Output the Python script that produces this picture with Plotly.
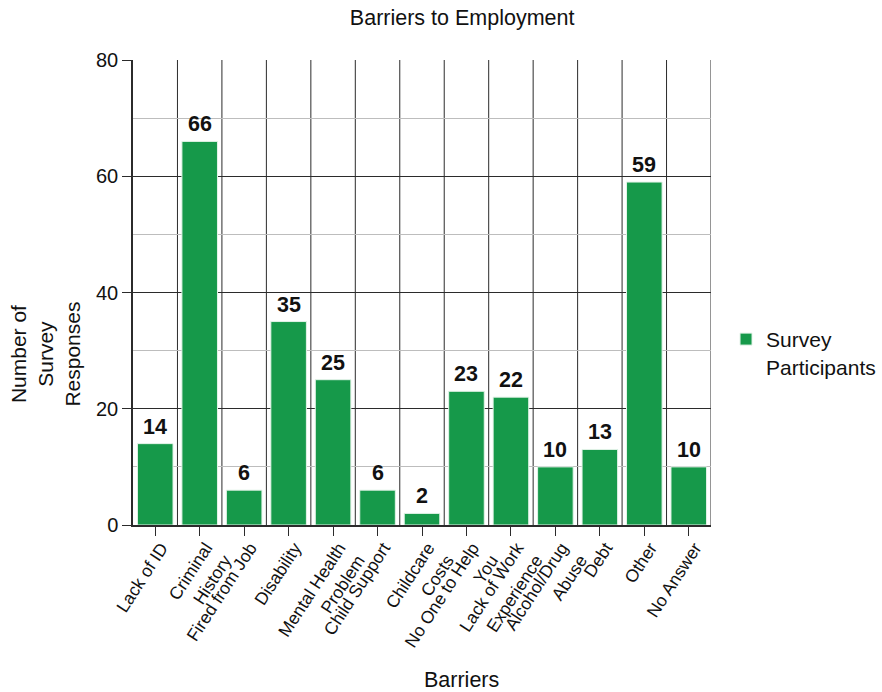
import plotly.graph_objects as go

# Survey results: number of participants citing each barrier
barriers = [
    "Lack of ID",
    "Criminal<br>History",
    "Fired from Job",
    "Disability",
    "Mental Health<br>Problem",
    "Child Support",
    "Childcare<br>Costs",
    "No One to Help<br>You",
    "Lack of Work<br>Experience",
    "Alcohol/Drug<br>Abuse",
    "Debt",
    "Other",
    "No Answer",
]
responses = [14, 66, 6, 35, 25, 6, 2, 23, 22, 10, 13, 59, 10]
y_ticks = [0, 20, 40, 60, 80]

FONT = "Liberation Sans, Arial, sans-serif"
BAR_GREEN = "#16994a"
DARK = "#2b2b2b"

fig = go.Figure()
fig.add_trace(
    go.Bar(
        x=barriers,
        y=responses,
        name="Survey<br>Participants",
        marker=dict(color=BAR_GREEN, line=dict(color="#e3f3e8", width=1)),
        showlegend=True,
    )
)

# value labels above each bar
for cat, val in zip(barriers, responses):
    fig.add_annotation(
        x=cat, y=val, text=f"<b>{val}</b>", showarrow=False,
        xref="x", yref="y", yanchor="bottom", yshift=3,
        font=dict(family=FONT, size=21.5, color="#111"),
    )

# vertical separators between categories
n = len(barriers)
for i in range(1, n + 1):
    fig.add_shape(
        type="line", xref="x", yref="y",
        x0=i - 0.5, x1=i - 0.5, y0=0, y1=y_ticks[-1],
        line=dict(color=DARK, width=1), layer="below",
    )

# axis titles
fig.add_annotation(
    text="Barriers", xref="paper", yref="paper", x=0.569, y=-0.333,
    showarrow=False, xanchor="center", yanchor="middle",
    font=dict(family=FONT, size=21.5, color="#111"),
)
fig.add_annotation(
    text="Number of<br>Survey<br>Responses", xref="paper", yref="paper",
    x=-0.151, y=0.368, textangle=-90, showarrow=False,
    xanchor="center", yanchor="middle",
    font=dict(family=FONT, size=21, color="#111"),
)

fig.update_layout(
    width=882,
    height=692,
    margin=dict(l=133, r=171, t=60, b=167, autoexpand=False),
    paper_bgcolor="white",
    plot_bgcolor="white",
    bargap=0.2,
    font=dict(family=FONT, color="#111"),
    title=dict(
        text="Barriers to Employment", x=0.524, xref="container", xanchor="center",
        y=0.975, yref="container", yanchor="middle",
        font=dict(family=FONT, size=21.5, color="#111"),
    ),
    legend=dict(
        x=1.026, xanchor="left", y=0.37, yanchor="middle",
        valign="top", font=dict(family=FONT, size=21, color="#111"),
        bgcolor="rgba(0,0,0,0)",
    ),
    xaxis=dict(
        type="category",
        range=[-0.5, n - 0.5],
        showgrid=False,
        showline=True, linecolor=DARK, linewidth=1.5,
        ticks="outside", ticklen=9, tickcolor=DARK, tickwidth=1,
        tickangle=-57, ticklabelshift=6, ticklabelstandoff=-5,
        tickfont=dict(family=FONT, size=17.5, color="#111"),
        automargin=False,
    ),
    yaxis=dict(
        range=[0, y_ticks[-1]],
        tickvals=y_ticks,
        showgrid=True, gridcolor=DARK, gridwidth=1,
        minor=dict(dtick=10, showgrid=True, gridcolor="#bdbdbd", gridwidth=1),
        showline=True, linecolor=DARK, linewidth=1.5,
        ticks="outside", ticklen=9, tickcolor=DARK, tickwidth=1,
        tickfont=dict(family=FONT, size=20, color="#111"),
        zeroline=False,
        automargin=False,
    ),
)

fig.write_html("out.html")
